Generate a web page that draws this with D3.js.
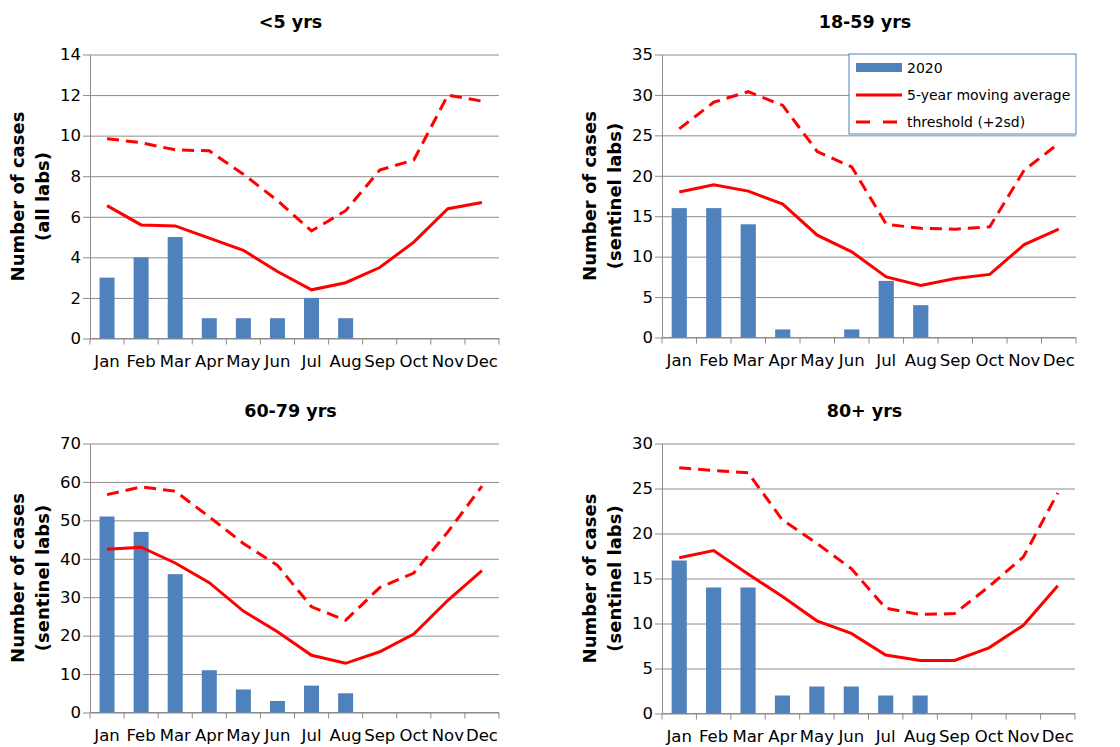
<!DOCTYPE html>
<html>
<head>
<meta charset="utf-8">
<script src="https://cdn.jsdelivr.net/npm/d3@7"></script>
<style>
  body { margin: 0; background: #fff; }
  svg { display: block; font-family: Tahoma, "DejaVu Sans", Verdana, sans-serif; }
</style>
</head>
<body>
<div id="chart"></div>
<script>
// data
const months = ['Jan', 'Feb', 'Mar', 'Apr', 'May', 'Jun', 'Jul', 'Aug', 'Sep', 'Oct', 'Nov', 'Dec'];
const titles = ['<5 yrs', '18-59 yrs', '60-79 yrs', '80+ yrs'];
const yLabels = ['(all labs)', '(sentinel labs)', '(sentinel labs)', '(sentinel labs)'];
const yMax = [14, 35, 70, 30];
const yStep = [2, 5, 10, 5];

const cases2020 = [
  [3, 4, 5, 1, 1, 1, 2, 1],
  [16, 16, 14, 1, 0, 1, 7, 4],
  [51, 47, 36, 11, 6, 3, 7, 5],
  [17, 14, 14, 2, 3, 3, 2, 2]
];
const movingAvg = [
  [6.55, 5.6, 5.55, 4.95, 4.35, 3.3, 2.4, 2.75, 3.5, 4.75, 6.4, 6.7],
  [18.0, 18.9, 18.1, 16.5, 12.65, 10.6, 7.5, 6.45, 7.3, 7.8, 11.5, 13.4],
  [42.5, 43.0, 38.9, 33.8, 26.4, 21.0, 14.9, 12.8, 15.8, 20.4, 29.2, 36.9],
  [17.3, 18.1, 15.5, 13.0, 10.3, 8.9, 6.5, 5.9, 5.9, 7.3, 9.8, 14.2]
];
const threshold = [
  [9.85, 9.65, 9.3, 9.25, 8.1, 6.8, 5.3, 6.3, 8.3, 8.8, 12.0, 11.7],
  [25.8, 29.1, 30.4, 28.7, 23.0, 21.1, 14.0, 13.5, 13.4, 13.7, 20.7, 24.0],
  [56.7, 58.7, 57.6, 50.9, 44.0, 38.3, 27.5, 24.0, 32.5, 36.3, 47.0, 58.9],
  [27.3, 27.0, 26.75, 21.5, 18.9, 16.1, 11.7, 11.0, 11.1, 14.1, 17.4, 24.5]
];
const legendLabels = ['2020', '5-year moving average', 'threshold (+2sd)'];

const barColor = '#4f81bd';
const lineColor = '#ff0000';
const gridColor = '#8c8c8c';

const svg = d3.select('#chart').append('svg')
  .attr('width', 1120)
  .attr('height', 747);

// plot boxes of the four panels
const boxes = [
  {left: 90, top: 54.5, right: 499, bottom: 338.5, titleY: 22, ylx: 18},
  {left: 662, top: 54.5, right: 1076, bottom: 337.5, titleY: 22, ylx: 590},
  {left: 90, top: 443.5, right: 499, bottom: 712.5, titleY: 411, ylx: 18},
  {left: 662, top: 443.5, right: 1075, bottom: 713.5, titleY: 411, ylx: 590}
];

boxes.forEach((b, i) => {
  const w = b.right - b.left;
  const h = b.bottom - b.top;
  const g = svg.append('g').attr('transform', `translate(${b.left},${b.top})`);

  const x = d3.scaleBand().domain(months).range([0, w]);
  const y = d3.scaleLinear().domain([0, yMax[i]]).range([h, 0]);
  const ticks = d3.range(0, yMax[i] + yStep[i] / 2, yStep[i]);

  // gridlines
  g.append('g')
    .attr('class', 'grid')
    .call(d3.axisRight(y).tickValues(ticks).tickSize(w).tickFormat(''))
    .call(s => s.select('.domain').remove())
    .selectAll('line').attr('stroke', gridColor).attr('stroke-width', 1);

  // y axis
  g.append('g')
    .attr('class', 'y')
    .call(d3.axisLeft(y).tickValues(ticks).tickSize(7).tickSizeOuter(0).tickPadding(2))
    .call(s => s.select('.domain').attr('stroke', gridColor))
    .call(s => s.selectAll('line').attr('stroke', gridColor))
    .call(s => s.selectAll('text')
      .attr('fill', '#000')
      .style('font-size', '16.5px')
      .style('font-family', 'Tahoma, "DejaVu Sans", sans-serif'));

  // x axis: ticks on band edges, labels on band centres
  const xa = g.append('g').attr('class', 'x').attr('transform', `translate(0,${h})`);
  xa.append('line').attr('x1', 0).attr('x2', w).attr('stroke', gridColor);
  xa.selectAll('line.tk')
    .data(months.concat(['end']))
    .join('line')
    .attr('class', 'tk')
    .attr('x1', (d, k) => k * x.step())
    .attr('x2', (d, k) => k * x.step())
    .attr('y1', 0).attr('y2', 6)
    .attr('stroke', gridColor);
  xa.call(d3.axisBottom(x).tickSize(0).tickPadding(17))
    .call(s => s.select('.domain').remove())
    .call(s => s.selectAll('text')
      .attr('fill', '#000')
      .style('font-size', '16.5px')
      .style('font-family', 'Tahoma, "DejaVu Sans", sans-serif'));

  // bars
  const bw = x.bandwidth() * 0.44;
  g.selectAll('rect.bar')
    .data(cases2020[i])
    .join('rect')
    .attr('class', 'bar')
    .attr('x', (d, k) => x(months[k]) + (x.bandwidth() - bw) / 2)
    .attr('y', d => y(d))
    .attr('width', bw)
    .attr('height', d => h - y(d))
    .attr('fill', barColor);

  const line = d3.line()
    .x((d, k) => x(months[k]) + x.bandwidth() / 2)
    .y(d => y(d));

  g.append('path')
    .datum(movingAvg[i])
    .attr('d', line)
    .attr('fill', 'none')
    .attr('stroke', lineColor)
    .attr('stroke-width', 3);

  g.append('path')
    .datum(threshold[i])
    .attr('d', line)
    .attr('fill', 'none')
    .attr('stroke', lineColor)
    .attr('stroke-width', 3)
    .attr('stroke-dasharray', '12,7');

  // title
  svg.append('text')
    .attr('x', b.left + w / 2 - 4)
    .attr('y', b.titleY)
    .attr('dy', '0.35em')
    .attr('text-anchor', 'middle')
    .style('font-size', '17.5px')
    .style('font-weight', 'bold')
    .text(titles[i]);

  // y label
  const yl = svg.append('text')
    .attr('transform', `translate(${b.ylx},${b.top + h / 2}) rotate(-90)`)
    .attr('text-anchor', 'middle')
    .style('font-size', '18px')
    .style('font-weight', 'bold');
  yl.append('tspan').attr('x', 0).attr('dy', '0.35em').text('Number of cases');
  yl.append('tspan').attr('x', 0).attr('dy', '1.38em').text(yLabels[i]);
});

// legend in the 18-59 panel
const lg = svg.append('g').attr('transform', 'translate(849,54)');
lg.append('rect')
  .attr('width', 227).attr('height', 80)
  .attr('fill', '#fff')
  .attr('stroke', '#4f81bd').attr('stroke-width', 1);
const rows = [14, 41, 68];
lg.append('rect')
  .attr('x', 7).attr('y', rows[0] - 5).attr('width', 46).attr('height', 9)
  .attr('fill', barColor);
lg.append('line')
  .attr('x1', 7).attr('x2', 53).attr('y1', rows[1]).attr('y2', rows[1])
  .attr('stroke', lineColor).attr('stroke-width', 3);
lg.append('line')
  .attr('x1', 7).attr('x2', 53).attr('y1', rows[2]).attr('y2', rows[2])
  .attr('stroke', lineColor).attr('stroke-width', 3)
  .attr('stroke-dasharray', '14,13');
lg.selectAll('text.lt')
  .data(legendLabels)
  .join('text')
  .attr('class', 'lt')
  .attr('x', 58)
  .attr('y', (d, k) => rows[k])
  .attr('dy', '0.35em')
  .style('font-size', '14px')
  .text(d => d);
</script>
</body>
</html>
